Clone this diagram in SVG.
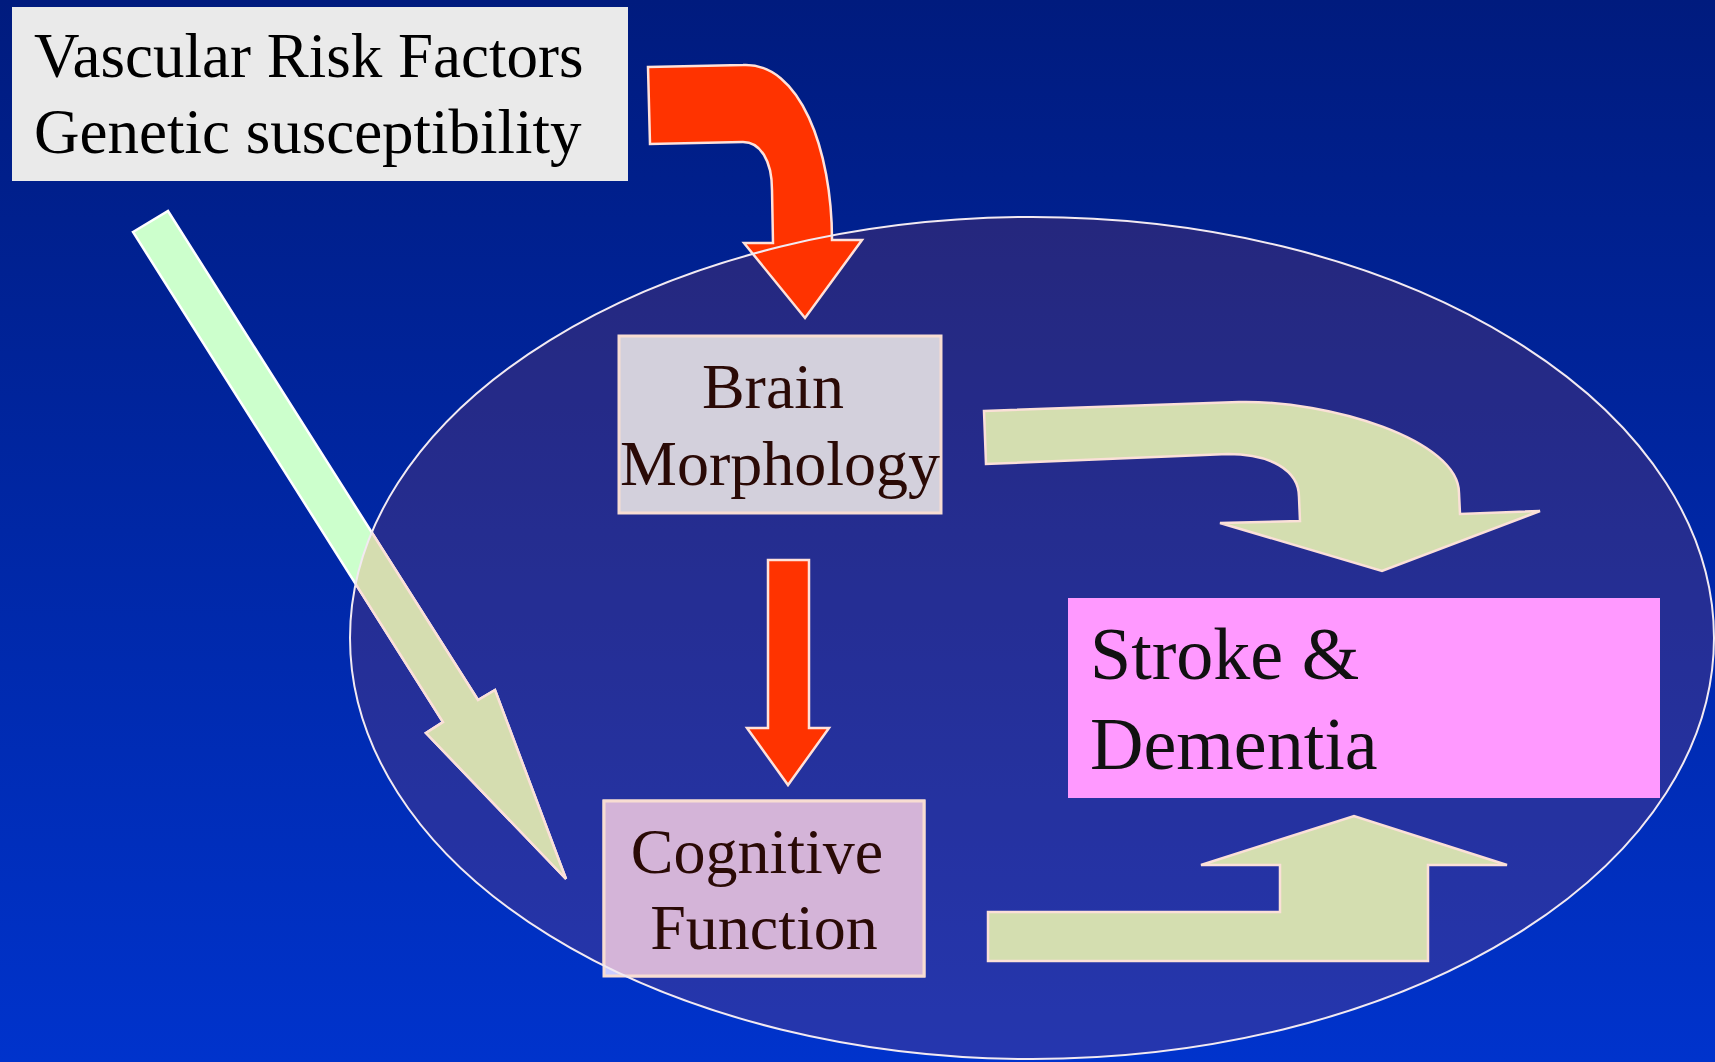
<svg xmlns="http://www.w3.org/2000/svg" width="1715" height="1062" viewBox="0 0 1715 1062">
<defs>
<linearGradient id="bg" x1="0" y1="0" x2="0" y2="1">
<stop offset="0" stop-color="#001B7E"/>
<stop offset="1" stop-color="#0033CC"/>
</linearGradient>
<clipPath id="inEllipse"><ellipse cx="1032" cy="638" rx="682" ry="421"/></clipPath>
<style>
.serif{font-family:"Liberation Serif","Times New Roman",serif;}
.lbl{font-size:64px;fill:#2A0A06;}
.arrowG{fill:#D4DEB0;stroke:#FBE0D8;stroke-width:2.5;stroke-linejoin:miter;}
.arrowR{fill:#FF3300;stroke:#FFE2DA;stroke-width:2.5;}
.box{stroke:#F8DDD2;stroke-width:3;}
</style>
</defs>
<rect x="0" y="0" width="1715" height="1062" fill="url(#bg)"/>
<g id="ellipse-fill">
<ellipse cx="1032" cy="638" rx="682" ry="421" fill="rgb(185,70,60)" fill-opacity="0.2"/>
</g>
<g id="connectors">
<g id="arrow-risk-to-cognitive">
<polygon points="133,232 168,211 478,700 495,690 566,879 426,733 443,722" fill="#CCFFCC" stroke="#FFFFFF" stroke-width="2.5"/>
<polygon points="133,232 168,211 478,700 495,690 566,879 426,733 443,722" fill="#D5DDB0" stroke="#FBE0D8" stroke-width="2.5" clip-path="url(#inEllipse)"/>
</g>
<path id="arrow-risk-to-brain" class="arrowR" d="M648,67 L743,65 C800,62 832,150 832,240 L862,240 L805,318 L744,243 L773,243 L772,190 C772,160 760,142 743,142 L650,144 Z"/>
<path id="arrow-brain-to-cognitive" class="arrowR" d="M768,560 L809,560 L809,728 L829,728 L788,785 L747,728 L768,728 Z"/>
<path id="arrow-brain-to-stroke" class="arrowG" d="M984,411 L1239,402 C1330,400 1459,440 1459,493 L1460,514 L1540,511 L1382,571 L1220,523 L1300,521 L1299,497 C1299,470 1270,454 1228,454 L986,464 Z"/>
<path id="arrow-cognitive-to-stroke" class="arrowG" d="M988,961 L988,912 L1280,912 L1280,865 L1201,865 L1354,816 L1507,865 L1428,865 L1428,961 Z"/>
</g>
<g id="node-risk">
<rect x="12" y="7" width="616" height="174" fill="#EAEAEA"/>
<text class="serif" x="34" y="77" font-size="63" fill="#000">Vascular Risk Factors</text>
<text class="serif" x="34" y="153" font-size="63" fill="#000">Genetic susceptibility</text>
</g>
<g id="node-brain">
<rect class="box" x="619" y="336" width="322" height="177" fill="#D3D0DC"/>
<text class="serif lbl" x="773" y="408" text-anchor="middle">Brain</text>
<text class="serif lbl" x="780" y="485" text-anchor="middle">Morphology</text>
</g>
<g id="node-cognitive">
<rect class="box" x="604" y="801" width="320" height="175" fill="#CCCCFF"/>
<rect class="box" x="604" y="801" width="320" height="175" fill="#D4B4D8" clip-path="url(#inEllipse)"/>
<text class="serif lbl" x="757" y="873" text-anchor="middle">Cognitive</text>
<text class="serif lbl" x="764" y="949" text-anchor="middle">Function</text>
</g>
<g id="node-stroke">
<rect x="1068" y="598" width="592" height="200" fill="#FF99FF"/>
<text class="serif" x="1090" y="679" font-size="74" fill="#111">Stroke &amp;</text>
<text class="serif" x="1090" y="769" font-size="74" fill="#111">Dementia</text>
</g>
<g id="ellipse-outline">
<ellipse cx="1032" cy="638" rx="682" ry="421" fill="none" stroke="#F2EAF2" stroke-width="2"/>
</g>
</svg>
